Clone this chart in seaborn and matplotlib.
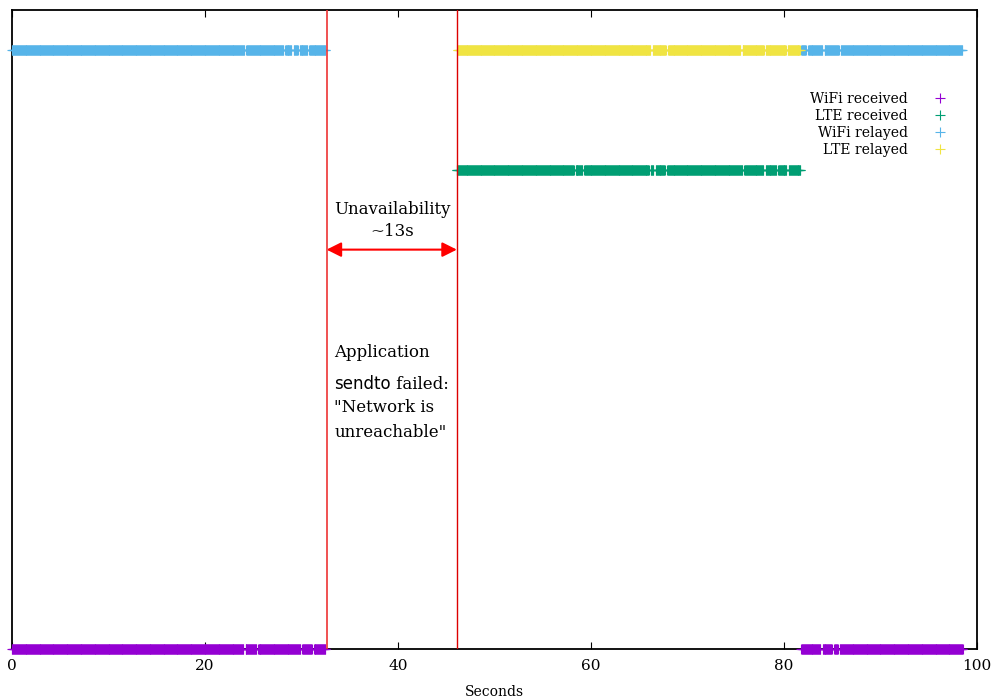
import numpy as np
import pandas as pd
import seaborn as sns
import matplotlib
matplotlib.use("Agg")
import matplotlib.pyplot as plt
from matplotlib.lines import Line2D

# reception windows in seconds (start, end); the small
# gaps between windows are lost packets
WIFI_RECV = [(0.0, 24.0), (24.2, 25.3), (25.5, 29.9), (30.1, 31.1), (31.3, 32.5),
             (81.8, 83.8), (84.0, 85.0), (85.2, 85.6), (85.8, 98.5)]
LTE_RECV = [(46.1, 58.2), (58.4, 59.1), (59.3, 66.0), (66.2, 66.5), (66.7, 67.7),
            (67.9, 75.7), (75.9, 77.9), (78.1, 79.2), (79.4, 80.3), (80.5, 81.7)]
WIFI_RELAY = [(0.0, 24.1), (24.3, 28.1), (28.3, 29.0), (29.2, 29.6), (29.8, 30.6),
              (30.8, 32.5), (81.8, 82.3), (82.5, 84.0), (84.2, 85.7), (85.9, 98.5)]
LTE_RELAY = [(46.2, 66.2), (66.4, 67.8), (68.0, 75.5), (75.7, 77.9), (78.1, 80.2),
             (80.4, 81.7)]
PKT_STEP = 0.05  # one packet every 50 ms

SERIES = ["WiFi received", "LTE received", "WiFi relayed", "LTE relayed"]
WINDOWS = [WIFI_RECV, LTE_RECV, WIFI_RELAY, LTE_RELAY]
LEVELS = [0.0, 3.0, 3.75, 3.75]
COLORS = ["#9400d3", "#009e73", "#56b4e9", "#f0e442"]

OUTAGE_START = 32.6
OUTAGE_END = 46.1

rows = []
for name, wins, lvl in zip(SERIES, WINDOWS, LEVELS):
    for a, b in wins:
        for t in np.arange(a, b, PKT_STEP):
            rows.append((t, lvl, name))
df = pd.DataFrame(rows, columns=["t", "level", "series"])

sns.set_style("white")
plt.rcParams["font.family"] = ["DejaVu Serif"]
plt.rcParams["text.color"] = "black"
plt.rcParams["axes.labelcolor"] = "black"
plt.rcParams["xtick.color"] = "black"

fig = plt.figure(figsize=(9.94, 6.99), dpi=100)
ax = fig.add_axes([12 / 994, 50 / 699, 965 / 994, 639 / 699])

sns.scatterplot(data=df, x="t", y="level", hue="series", hue_order=SERIES,
                palette=dict(zip(SERIES, COLORS)), marker="+", s=50,
                linewidth=0.8, legend=False, ax=ax, zorder=3)
for coll in ax.collections:
    coll.set_clip_on(False)

ax.axvline(OUTAGE_START, color="#ee3333", lw=1.2, zorder=4)
ax.axvline(OUTAGE_END, color="#dd0000", lw=1.0, zorder=4)

ax.set_xlim(0, 100)
ax.set_ylim(0, 4)
ax.set_xticks([0, 20, 40, 60, 80, 100])
ax.set_yticks([])
ax.tick_params(axis="x", direction="in", length=5, width=0.8, top=True,
               bottom=True, labelsize=11, pad=7)
for sp in ax.spines.values():
    sp.set_color("black")
    sp.set_linewidth(1.3)
ax.set_xlabel("Seconds", fontsize=10, labelpad=9)
ax.set_ylabel("")

# outage annotation
ax.annotate("", xy=(OUTAGE_START, 2.5), xytext=(OUTAGE_END, 2.5),
            arrowprops=dict(arrowstyle="<|-|>", color="red", lw=1.5,
                            mutation_scale=22, shrinkA=0, shrinkB=0))
ax.text(39.4, 2.56, "Unavailability\n~13s", ha="center", va="bottom",
        multialignment="center", fontsize=12, linespacing=1.35)

ax.text(33.4, 1.853, "Application", ha="left", va="center", fontsize=12)
t1 = ax.text(33.4, 1.625, "sendto", ha="left", va="baseline", fontsize=12,
             family="DejaVu Sans")
ax.annotate(" failed:", xy=(1, 0), xycoords=t1, ha="left", va="bottom",
            fontsize=12)
ax.text(33.4, 1.509, "\"Network is", ha="left", va="center", fontsize=12)
ax.text(33.4, 1.358, "unreachable\"", ha="left", va="center", fontsize=12)

handles = [Line2D([], [], ls="none", marker="+", color=c, ms=7, mew=0.8)
           for c in COLORS]
ax.legend(handles, SERIES, loc="upper right", bbox_to_anchor=(0.970, 0.872),
          markerfirst=False, frameon=False, handlelength=1.2, handletextpad=1.7,
          labelspacing=0.22, fontsize=10, borderpad=0, borderaxespad=0)

fig.savefig("out.png", dpi=100)
